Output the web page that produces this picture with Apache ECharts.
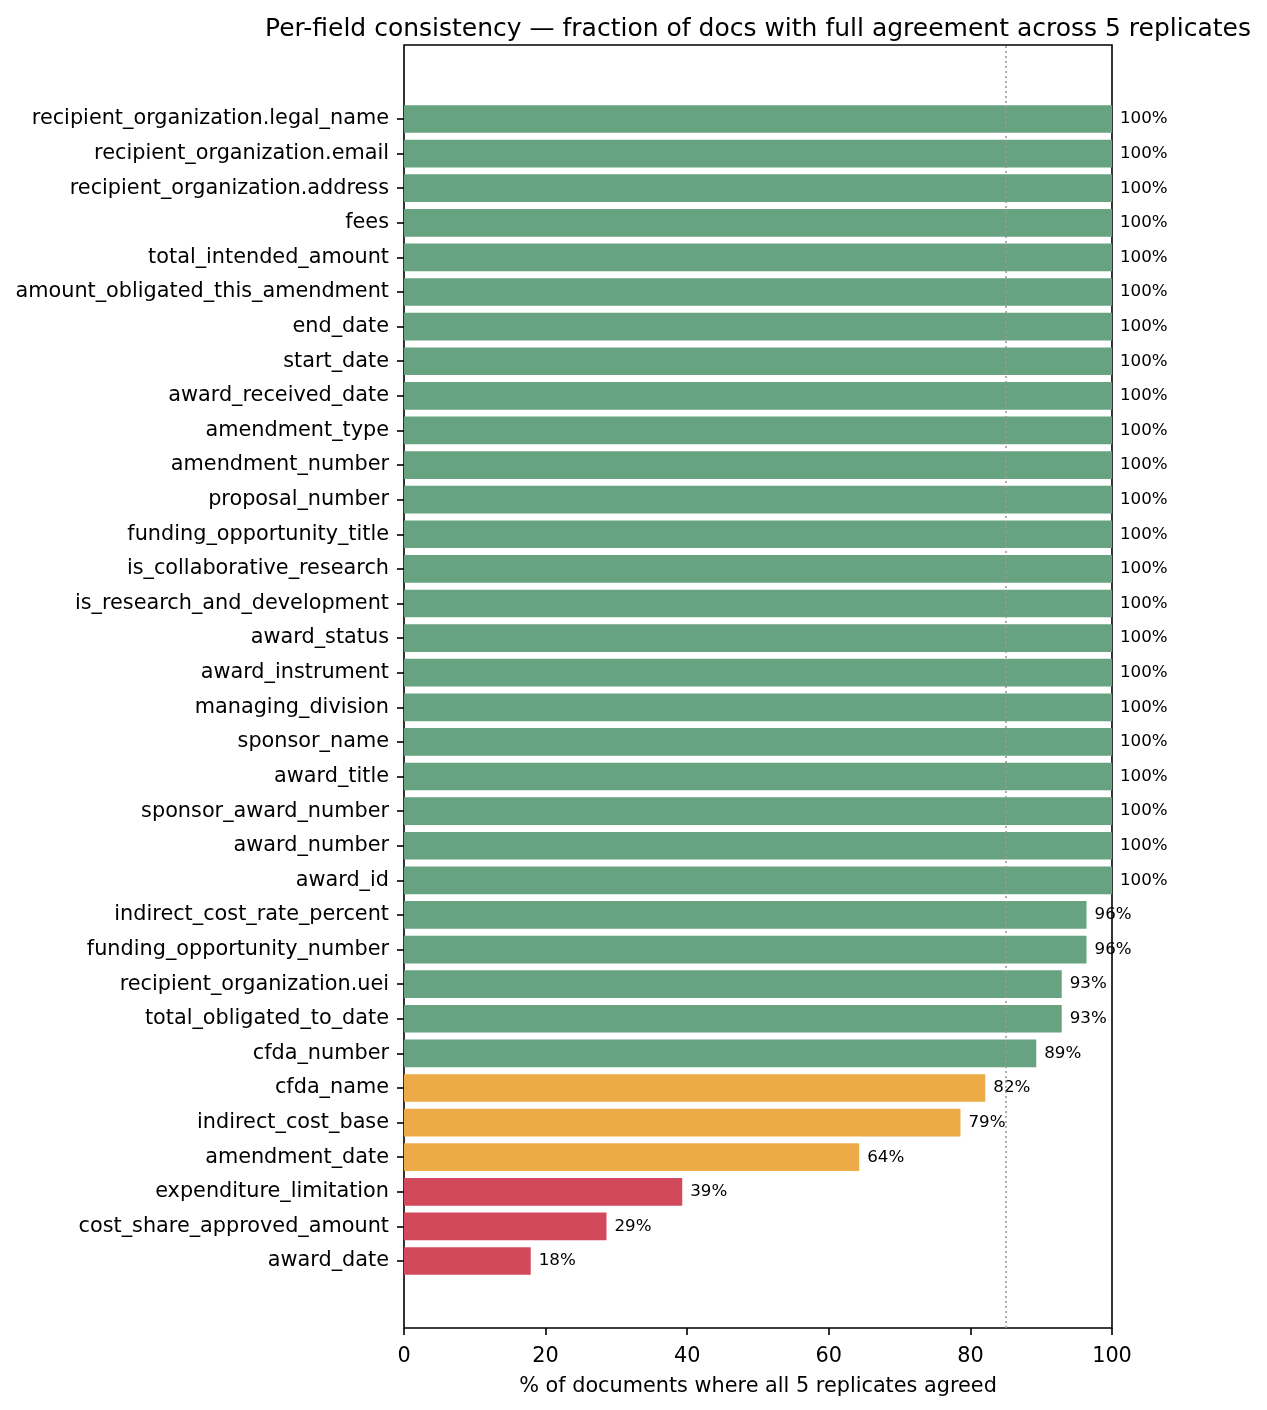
<!DOCTYPE html>
<html>
<head>
<meta charset="utf-8">
<script src="https://cdn.jsdelivr.net/npm/echarts@6/dist/echarts.min.js"></script>
<style>
  html, body { margin: 0; padding: 0; background: #fff; }
  #chart { width: 1267px; height: 1410px; }
</style>
</head>
<body>
<div id="chart"></div>
<script>
// fields, top to bottom
var fields = [
  'recipient_organization.legal_name', 'recipient_organization.email', 'recipient_organization.address',
  'fees', 'total_intended_amount', 'amount_obligated_this_amendment', 'end_date', 'start_date',
  'award_received_date', 'amendment_type', 'amendment_number', 'proposal_number',
  'funding_opportunity_title', 'is_collaborative_research', 'is_research_and_development',
  'award_status', 'award_instrument', 'managing_division', 'sponsor_name', 'award_title',
  'sponsor_award_number', 'award_number', 'award_id', 'indirect_cost_rate_percent',
  'funding_opportunity_number', 'recipient_organization.uei', 'total_obligated_to_date',
  'cfda_number', 'cfda_name', 'indirect_cost_base', 'amendment_date', 'expenditure_limitation',
  'cost_share_approved_amount', 'award_date'
];
// % of docs with full agreement
var agreement = [
  100, 100, 100, 100, 100, 100, 100, 100, 100, 100, 100, 100, 100, 100, 100, 100, 100, 100,
  100, 100, 100, 100, 100, 96.4, 96.4, 92.9, 92.9, 89.3, 82.1, 78.6, 64.3, 39.3, 28.6, 17.9
];
var threshold = 85;
var xTicks = [0, 20, 40, 60, 80, 100];

var GREEN = '#67a281', ORANGE = '#ecab46', RED = '#d3495c';
function barColor(v) {
  if (v >= threshold) return GREEN;
  if (v >= 60) return ORANGE;
  return RED;
}

var chart = echarts.init(document.getElementById('chart'), null, { renderer: 'canvas' });
var font = 'DejaVu Sans';

var option = {
  animation: false,
  backgroundColor: '#fff',
  textStyle: { fontFamily: font },
  title: {
    text: 'Per-field consistency \u2014 fraction of docs with full agreement across 5 replicates',
    left: 753, top: 12, textAlign: 'center',
    textStyle: { fontFamily: font, fontSize: 25, fontWeight: 'normal', color: '#000' }
  },
  grid: [
    // frame grid (full axes box)
    { left: 404, right: 1267 - 1112, top: 45, bottom: 1410 - 1328, show: true,
      borderColor: '#000', borderWidth: 1.6, backgroundColor: 'transparent' },
    // bars grid (category bands)
    { left: 404, right: 1267 - 1112, top: 101.7, bottom: 1410 - 1278.3 }
  ],
  xAxis: [
    { gridIndex: 0, type: 'value', min: 0, max: 100, interval: 20,
      axisLine: { show: false },
      axisTick: { show: true, length: 7, lineStyle: { color: '#000', width: 1.6 } },
      axisLabel: { color: '#000', fontSize: 20.8, margin: 18, fontFamily: font,
        formatter: function (v) { return xTicks.indexOf(v) >= 0 ? String(v) : ''; } },
      splitLine: { show: false },
      name: '% of documents where all 5 replicates agreed',
      nameLocation: 'middle', nameGap: 48,
      nameTextStyle: { color: '#000', fontSize: 20.8, fontFamily: font } },
    { gridIndex: 1, type: 'value', min: 0, max: 100, show: false }
  ],
  yAxis: [
    { gridIndex: 0, type: 'value', min: 0, max: 1, show: false },
    { gridIndex: 1, type: 'category', data: fields, inverse: true,
      axisLine: { show: false },
      axisTick: { show: true, alignWithLabel: true, length: 7, lineStyle: { color: '#000', width: 1.6 } },
      axisLabel: { color: '#000', fontSize: 20.8, margin: 15, fontFamily: font },
      splitLine: { show: false } }
  ],
  series: [
    {
      type: 'bar', xAxisIndex: 1, yAxisIndex: 1, barWidth: '80%',
      data: agreement.map(function (v) {
        return { value: v, itemStyle: { color: barColor(v) } };
      }),
      label: {
        show: true, position: 'right', distance: 8, color: '#000',
        fontSize: 16.7, fontFamily: font,
        formatter: function (p) { return Math.round(p.value) + '%'; }
      },
      z: 2
    },
    {
      type: 'line', xAxisIndex: 0, yAxisIndex: 0, data: [], symbol: 'none',
      markLine: {
        silent: true, symbol: 'none', label: { show: false },
        lineStyle: { color: '#999', type: [2, 3], width: 1.6 },
        data: [{ xAxis: threshold }]
      },
      z: 5
    }
  ]
};
chart.setOption(option);
</script>
</body>
</html>
